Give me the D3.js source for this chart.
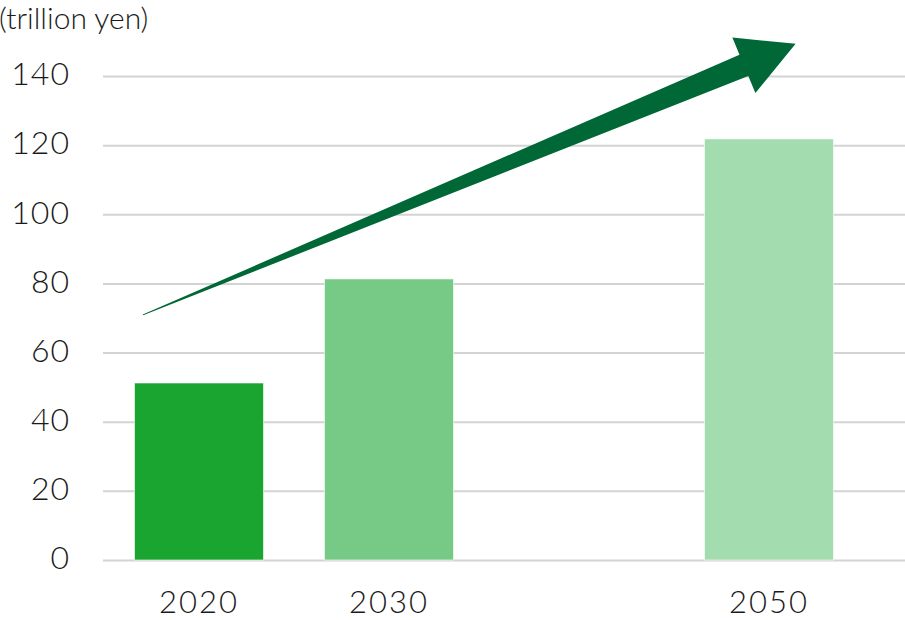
<!DOCTYPE html>
<html>
<head>
<meta charset="utf-8">
<script src="https://cdn.jsdelivr.net/npm/d3@7"></script>
<style>
  html, body { margin: 0; padding: 0; background: #fff; }
  svg { display: block; }
  text { font-family: Lato, "Open Sans", sans-serif; font-weight: 300; fill: #1a1a1a; }
</style>
</head>
<body>
<svg id="chart" width="905" height="620"></svg>
<script>
// ---- data ----
const years = [2020, 2030, 2050];
const values = [51.2, 81.3, 121.8];
const barColors = ["#19a530", "#76ca86", "#a3dcae"];
const yTicks = [0, 20, 40, 60, 80, 100, 120, 140];
const unitLabel = "(trillion yen)";
// trend arrow in data coordinates: [year, value]
const arrowTail = [2017.05, 70.9];
const arrowTip = [2051.4, 149.3];

// ---- layout ----
const W = 905, H = 620;
const svg = d3.select("#chart");

const x = d3.scaleLinear().domain([2020, 2030]).range([199, 389]);
const y = d3.scaleLinear().domain([0, 140]).range([560, 76]);
const barW = 129;

// gridlines via axis
const grid = d3.axisLeft(y).tickValues(yTicks).tickSize(-(W - 103)).tickFormat("");
svg.append("g").attr("transform", "translate(103,0)").call(grid)
  .call(g => g.select(".domain").remove())
  .call(g => g.selectAll("line").attr("stroke", "#d3d3d3").attr("stroke-width", 2));

// y tick labels
const yAxis = d3.axisLeft(y).tickValues(yTicks).tickSize(0).tickPadding(0);
svg.append("g").attr("transform", "translate(70,0)").call(yAxis)
  .call(g => g.select(".domain").remove())
  .call(g => g.selectAll("text")
    .attr("font-size", 32).attr("dy", "0.32em").attr("y", -1.5)
    .style("font-family", "Lato, sans-serif").style("font-weight", 300)
    .style("letter-spacing", "1px").attr("fill", "#1a1a1a"));

// bars
svg.append("g").selectAll("rect").data(years).join("rect")
  .attr("x", (d) => x(d) - barW / 2)
  .attr("y", (d, i) => y(values[i]))
  .attr("width", barW)
  .attr("height", (d, i) => y(0) - y(values[i]))
  .attr("fill", (d, i) => barColors[i])
  .attr("stroke", "rgba(255,255,255,0.6)")
  .attr("stroke-width", 1);

// x labels
svg.append("g").selectAll("text").data(years).join("text")
  .attr("x", d => x(d))
  .attr("y", 613)
  .attr("text-anchor", "middle")
  .attr("font-size", 31)
  .style("letter-spacing", "2px")
  .text(d => d);

// unit label
svg.append("text").attr("x", -1).attr("y", 29).attr("font-size", 30).text(unitLabel);

// arrow
const t = [x(arrowTail[0]), y(arrowTail[1])];
const p = [x(arrowTip[0]), y(arrowTip[1])];
const dx = p[0] - t[0], dy = p[1] - t[1];
const L = Math.hypot(dx, dy);
const u = [dx / L, dy / L];
const n = [-u[1], u[0]];
const headLen = 56, shaftHalf = 11.5, headHalf = 30, tailHalf = 0.5;
const base = [p[0] - u[0] * headLen, p[1] - u[1] * headLen];
const pt = (c, s) => [c[0] + n[0] * s, c[1] + n[1] * s];
const poly = [
  pt(t, tailHalf), pt(base, shaftHalf), pt(base, headHalf), p,
  pt(base, -headHalf), pt(base, -shaftHalf), pt(t, -tailHalf)
];
svg.append("path")
  .attr("d", d3.line()(poly) + "Z")
  .attr("fill", "#006837");
</script>
</body>
</html>
